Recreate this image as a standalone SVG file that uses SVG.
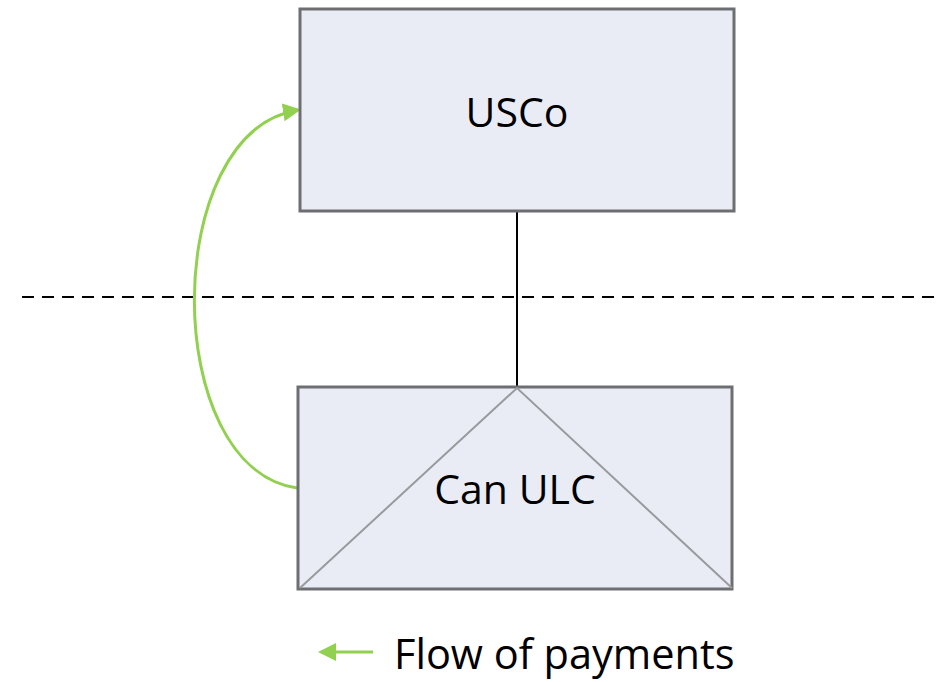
<svg xmlns="http://www.w3.org/2000/svg" width="951" height="682" viewBox="0 0 951 682">
<style>
.box{fill:#E9ECF5;stroke:#6D6E71;stroke-width:3}
.lbl{font-family:"Open Sans","Liberation Sans",sans-serif;fill:#000;text-anchor:middle}
.flow{fill:none;stroke:#92D050;stroke-width:3}
</style>
<defs>
<marker id="ah" markerWidth="6" markerHeight="6" refX="5" refY="3" orient="auto" markerUnits="strokeWidth">
<path d="M0,0 L6,3 L0,6 Z" fill="#92D050"/>
</marker>
</defs>
<rect width="951" height="682" fill="#fff"/>
<g id="connectors">
<line x1="22" y1="297" x2="942" y2="297" stroke="#000" stroke-width="2" stroke-dasharray="12,8"/>
<line x1="517" y1="211" x2="517" y2="387" stroke="#000" stroke-width="2"/>
<path class="flow" d="M297,488 C160,468 160,132 298,110" marker-end="url(#ah)"/>
</g>
<g id="usco">
<rect class="box" x="300" y="9" width="434" height="202"/>
<text class="lbl" x="517" y="127" font-size="41">USCo</text>
</g>
<g id="can-ulc">
<rect class="box" x="298" y="387" width="434" height="202"/>
<path d="M300,588 L517,388 L732,588" fill="none" stroke="#9A9A9E" stroke-width="2"/>
<text class="lbl" x="515" y="504" font-size="41">Can ULC</text>
</g>
<g id="legend">
<line class="flow" x1="373" y1="652" x2="321" y2="652" marker-end="url(#ah)"/>
<text x="394" y="669" font-family="'Open Sans','Liberation Sans',sans-serif" font-size="41.5" fill="#000">Flow of payments</text>
</g>
</svg>
